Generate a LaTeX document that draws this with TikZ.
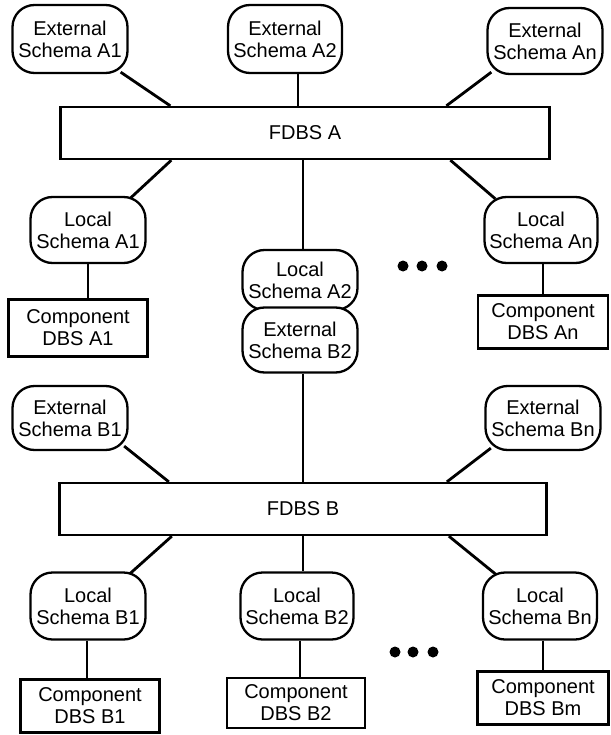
\documentclass[tikz,border=0pt]{standalone}
\usepackage{fontspec}
\setmainfont{Liberation Sans}
\usetikzlibrary{calc,backgrounds}
\begin{document}
\begin{tikzpicture}[x=1pt,y=-1pt,
  base/.style={draw,line width=2.3pt,fill=white,align=center,inner sep=0pt,font=\fontsize{20}{22}\selectfont},
  schema/.style={base,rounded corners=22pt},
  dbs/.style={base},
  conn/.style={line width=2.8pt},
  blob/.style={circle,fill=black,inner sep=0pt,minimum size=11pt}]
\useasboundingbox (0,0) rectangle (610,735);

% federation A
\node[schema,minimum width=115pt,minimum height=68pt] (extA1) at (70,39) {External\\Schema A1};
\node[schema,minimum width=114pt,minimum height=68pt] (extA2) at (285,39) {External\\Schema A2};
\node[schema,minimum width=115pt,minimum height=66pt] (extAn) at (545,41) {External\\Schema An};
\node[dbs,minimum width=489pt,minimum height=52pt] (fdbsA) at (305,133) {FDBS A};
\node[schema,minimum width=115pt,minimum height=66pt] (locA1) at (88,230) {Local\\Schema A1};
\node[schema,minimum width=115pt,minimum height=60pt] (locA2) at (300,280) {Local\\Schema A2};
\node[schema,minimum width=115pt,minimum height=65pt] (extB2) at (300,340) {External\\Schema B2};
\node[schema,minimum width=113pt,minimum height=66pt] (locAn) at (541,230) {Local\\Schema An};
\node[dbs,minimum width=139pt,minimum height=57pt] (compA1) at (78,328) {Component\\DBS A1};
\node[dbs,minimum width=130pt,minimum height=53pt] (compAn) at (543,322) {Component\\DBS An};
\node[blob] (dA1) at (403,266) {};
\node[blob] (dA2) at (422,266) {};
\node[blob] (dA3) at (442,266) {};

% federation B
\node[schema,minimum width=115pt,minimum height=64pt] (extB1) at (70,418) {External\\Schema B1};
\node[schema,minimum width=115pt,minimum height=64pt] (extBn) at (543,418) {External\\Schema Bn};
\node[dbs,minimum width=487pt,minimum height=52pt] (fdbsB) at (303,509) {FDBS B};
\node[schema,minimum width=115pt,minimum height=67pt] (locB1) at (88,606) {Local\\Schema B1};
\node[schema,minimum width=113pt,minimum height=67pt] (locB2) at (297,606) {Local\\Schema B2};
\node[schema,minimum width=114pt,minimum height=67pt] (locBn) at (540,606) {Local\\Schema Bn};
\node[dbs,minimum width=139pt,minimum height=53pt] (compB1) at (90,706) {Component\\DBS B1};
\node[dbs,minimum width=138pt,minimum height=50pt] (compB2) at (296,703) {Component\\DBS B2};
\node[dbs,minimum width=131pt,minimum height=53pt] (compBm) at (543,698) {Component\\DBS Bm};
\node[blob] (dB1) at (395,652) {};
\node[blob] (dB2) at (413,652) {};
\node[blob] (dB3) at (433,652) {};

\begin{scope}[on background layer]
% A
\draw[conn] ($(extA1.south east)+(-8,-2)$) -- ($(fdbsA.north west)+(111,0)$);
\draw[conn] ($(extA2.south)+(13,-2)$) coordinate (a2) -- (a2 |- fdbsA.north);
\draw[conn] ($(extAn.south west)+(5,-3)$) -- ($(fdbsA.north west)+(387,0)$);
\draw[conn] ($(fdbsA.south west)+(112,0)$) -- ($(locA1.north east)+(-17,3)$);
\draw[conn] ($(fdbsA.south)+(-2,0)$) coordinate (la2) -- (la2 |- locA2.north);
\draw[conn] ($(fdbsA.south west)+(391,0)$) -- ($(locAn.north west)+(12,3)$);
\draw[conn] (locA1.south) -- (locA1.south |- compA1.north);
\draw[conn] ($(locAn.south)+(2,0)$) coordinate (lan) -- (lan |- compAn.north);
% B
\draw[conn] ($(extB2.south)+(3,0)$) coordinate (eb2) -- (eb2 |- fdbsB.north);
\draw[conn] ($(extB1.south east)+(-4.5,-5)$) -- ($(fdbsB.north west)+(110.5,0)$);
\draw[conn] ($(extBn.south west)+(6.5,-3)$) -- ($(fdbsB.north west)+(388.5,0)$);
\draw[conn] ($(fdbsB.south west)+(113.5,0)$) -- ($(locB1.north east)+(-17.5,3)$);
\draw[conn] (fdbsB.south) coordinate (lb2) -- (lb2 |- locB2.north);
\draw[conn] ($(fdbsB.south west)+(390.5,0)$) -- ($(locBn.north west)+(14,3)$);
\draw[conn] ($(locB1.south)+(-1,0)$) coordinate (lb1) -- (lb1 |- compB1.north);
\draw[conn] ($(locB2.south)+(3,0)$) coordinate (lb2b) -- (lb2b |- compB2.north);
\draw[conn] ($(locBn.south)+(3,0)$) coordinate (lbn) -- (lbn |- compBm.north);
\end{scope}
\end{tikzpicture}
\end{document}
